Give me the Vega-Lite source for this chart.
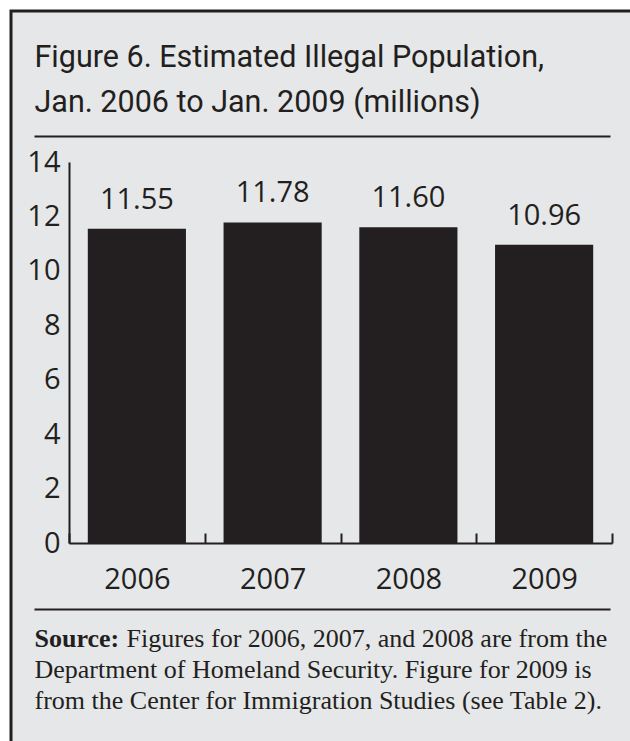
{
  "$schema": "https://vega.github.io/schema/vega-lite/v6.json",
  "autosize": {"type": "none"},
  "width": 619,
  "height": 730,
  "padding": {"left": 11, "top": 11, "right": 0, "bottom": 0},
  "background": "white",
  "config": {
    "view": {"fill": "#e6e7e8", "stroke": "#231f20", "strokeWidth": 3, "strokeDash": [619, 1349, 730, 0], "strokeCap": "square"}
  },
  "data": {
    "values": [
      {"year": "2006", "value": 11.55},
      {"year": "2007", "value": 11.78},
      {"year": "2008", "value": 11.60},
      {"year": "2009", "value": 10.96}
    ]
  },
  "layer": [
    {
      "layer": [
        {
          "mark": {"type": "bar", "color": "#231f20", "width": {"band": 0.723}},
          "encoding": {
            "x": {
              "field": "year", "type": "nominal", "sort": null,
              "scale": {"range": [58, 601], "paddingInner": 0, "paddingOuter": 0},
              "axis": {
                "orient": "bottom", "offset": -198, "title": null, "grid": false,
                "domainColor": "#231f20", "domainWidth": 2,
                "ticks": true, "tickBand": "extent", "tickSize": -10, "tickWidth": 2, "tickColor": "#231f20",
                "labelFont": "Open Sans", "labelFontSize": 29, "labelColor": "#231f20", "labelAngle": 0, "labelPadding": 32
              }
            },
            "y": {
              "field": "value", "type": "quantitative",
              "scale": {"domain": [0, 14], "range": [532, 151], "nice": false, "zero": true},
              "axis": {
                "orient": "left", "offset": -58, "title": null, "grid": false,
                "values": [0, 2, 4, 6, 8, 10, 12, 14],
                "ticks": false, "domainColor": "#231f20", "domainWidth": 2,
                "labelFont": "Open Sans", "labelFontSize": 29, "labelColor": "#231f20", "labelPadding": 9
              }
            }
          }
        },
        {
          "mark": {"type": "text", "font": "Open Sans", "fontSize": 29, "color": "#231f20", "baseline": "alphabetic", "dy": -20},
          "encoding": {
            "x": {"field": "year", "type": "nominal", "sort": null},
            "y": {"field": "value", "type": "quantitative"},
            "text": {"field": "value", "type": "quantitative", "format": ".2f"}
          }
        }
      ]
    },
    {
      "mark": {"type": "rule", "opacity": 0},
      "encoding": {
        "x": {
          "datum": 0, "type": "quantitative",
          "scale": {"domain": [0, 1], "range": [23, 599], "nice": false, "zero": false},
          "axis": {
            "orient": "top", "offset": -125, "grid": false,
            "domain": true, "domainColor": "#231f20", "domainWidth": 2,
            "ticks": false, "labels": false,
            "title": ["Figure 6. Estimated Illegal Population,", "Jan. 2006 to Jan. 2009 (millions)"],
            "titleFont": "Roboto",
            "titleFontSize": 30.5, "titleFontWeight": "normal", "titleColor": "#231f20",
            "titleX": 23, "titleY": -70, "titleAlign": "left", "titleAnchor": "start",
            "titleBaseline": "alphabetic", "titleLineHeight": 45, "titleAngle": 0, "titleLimit": 1000
          }
        }
      }
    },
    {
      "mark": {"type": "rule", "opacity": 0},
      "encoding": {
        "x": {
          "datum": 0, "type": "quantitative",
          "scale": {"domain": [0, 1], "range": [23, 599], "nice": false, "zero": false},
          "axis": {
            "orient": "bottom", "offset": -132, "grid": false,
            "domain": true, "domainColor": "#231f20", "domainWidth": 2,
            "ticks": false,
            "values": [0, 0.1597],
            "labelExpr": "datum.value == 0 ? 'Source:' : 'Figures for 2006, 2007, and 2008 are from the'",
            "labelFontWeight": {"condition": {"test": "datum.value == 0", "value": "bold"}, "value": "normal"},
            "labelFont": "Liberation Serif", "labelFontSize": 26, "labelColor": "#231f20",
            "labelAlign": "left", "labelBaseline": "alphabetic", "labelPadding": 37,
            "labelFlush": false, "labelOverlap": false, "labelBound": false, "labelLimit": 1000,
            "title": ["Department of Homeland Security.  Figure for 2009 is", "from the Center for Immigration Studies (see Table 2)."],
            "titleFont": "Liberation Serif", "titleFontSize": 26, "titleFontWeight": "normal", "titleColor": "#231f20",
            "titleX": 23, "titleY": 68, "titleAlign": "left", "titleAnchor": "start",
            "titleBaseline": "alphabetic", "titleLineHeight": 31, "titleAngle": 0, "titleLimit": 1000
          }
        }
      }
    }
  ],
  "resolve": {"scale": {"x": "independent"}, "axis": {"x": "independent"}}
}
